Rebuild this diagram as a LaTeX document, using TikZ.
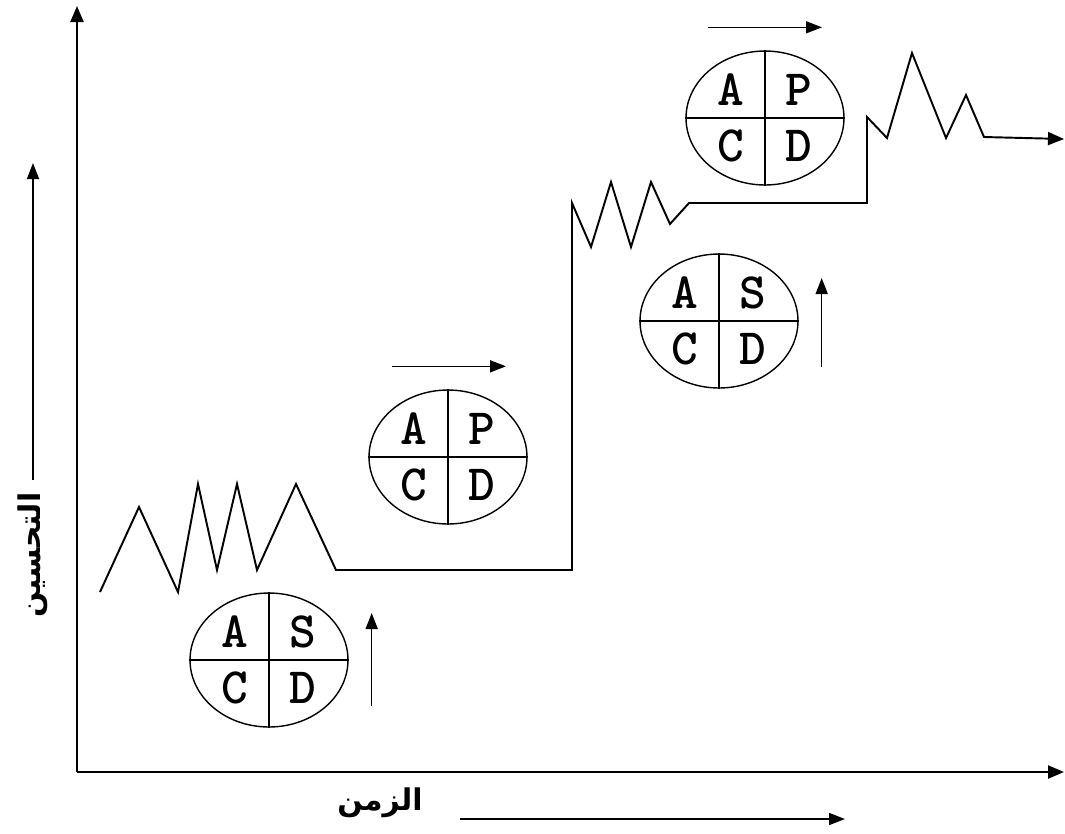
\documentclass[tikz,border=0pt]{standalone}
\usepackage{fontspec}
\newfontfamily\arabicfont[Script=Arabic]{DejaVu Sans}
\TeXXeTstate=1
\usetikzlibrary{shapes.geometric, arrows.meta, calc}
\tikzset{
    axisline/.style={line width=1.3pt, -{Triangle[length=3.2mm, width=2.6mm]}},
    stepline/.style={line width=1.1pt, line join=miter, -{Triangle[length=3.2mm, width=2.6mm]}},
    cyclebox/.style={draw, ellipse, line width=0.8pt, minimum width=3.16cm, minimum height=2.68cm, inner sep=0pt},
    divider/.style={line width=0.8pt},
    letter/.style={font=\ttfamily\bfseries\fontsize{29}{29}\selectfont, inner sep=0pt},
    dirarrow/.style={line width=0.9pt, -{Triangle[length=3.2mm, width=2.4mm]}},
    axislabel/.style={font=\arabicfont\bfseries\fontsize{17}{20}\selectfont, inner sep=0pt},
}
\begin{document}
\begin{tikzpicture}[x=0.02cm, y=-0.02cm]
    \useasboundingbox (0,0) rectangle (1065,833);

    % Axes
    \coordinate (origin) at (77,772);
    \coordinate (ytop) at (77,6);
    \coordinate (xend) at (1064,772);
    \draw[axisline] (origin) -- (ytop);
    \draw[axisline] (origin) -- (xend);

    % Axis labels
    \node[axislabel, rotate=90] (ylabel) at (33,555) {\beginR التحسين\endR};
    \coordinate (ybase) at (33,480);
    \coordinate (ytip) at (33,163);
    \draw[dirarrow] (ybase) -- (ytip);
    \node[axislabel] (xlabel) at (380,803) {\beginR الزمن\endR};
    \coordinate (xbase) at (460,819);
    \coordinate (xtip) at (845,819);
    \draw[dirarrow] (xbase) -- (xtip);

    % Improvement path
    \draw[stepline] (100,592) -- (139,507) -- (178,592) -- (198,484) -- (217,570)
        -- (237,484) -- (257,570) -- (296,484) -- (336,570) -- (572,570)
        -- (572,203) -- (591,247) -- (611,182) -- (631,247) -- (651,182)
        -- (670,224) -- (689,203) -- (867,203) -- (867,117) -- (887,138)
        -- (912,53) -- (946,138) -- (966,95) -- (984,137) -- (1064,139);

    % First SDCA cycle
    \node[cyclebox] (sdca1) at (269,660) {};
    \draw[divider] (sdca1.north) -- (sdca1.south);
    \draw[divider] (sdca1.west) -- (sdca1.east);
    \node[letter] (sdca1a) at ($(sdca1)+(-34,-28)$) {A};
    \node[letter] (sdca1s) at ($(sdca1)+(34,-28)$) {S};
    \node[letter] (sdca1c) at ($(sdca1)+(-34,28)$) {C};
    \node[letter] (sdca1d) at ($(sdca1)+(34,28)$) {D};
    \draw[dirarrow] ($(sdca1.east)+(23,46)$) -- ($(sdca1.east)+(23,-47)$);

    % First PDCA cycle
    \node[cyclebox] (pdca1) at (448,457) {};
    \draw[divider] (pdca1.north) -- (pdca1.south);
    \draw[divider] (pdca1.west) -- (pdca1.east);
    \node[letter] (pdca1a) at ($(pdca1)+(-34,-28)$) {A};
    \node[letter] (pdca1p) at ($(pdca1)+(34,-28)$) {P};
    \node[letter] (pdca1c) at ($(pdca1)+(-34,28)$) {C};
    \node[letter] (pdca1d) at ($(pdca1)+(34,28)$) {D};
    \draw[dirarrow] ($(pdca1.north)+(-56,-23)$) -- ($(pdca1.north)+(58,-23)$);

    % Second SDCA cycle
    \node[cyclebox] (sdca2) at (719,321) {};
    \draw[divider] (sdca2.north) -- (sdca2.south);
    \draw[divider] (sdca2.west) -- (sdca2.east);
    \node[letter] (sdca2a) at ($(sdca2)+(-34,-28)$) {A};
    \node[letter] (sdca2s) at ($(sdca2)+(34,-28)$) {S};
    \node[letter] (sdca2c) at ($(sdca2)+(-34,28)$) {C};
    \node[letter] (sdca2d) at ($(sdca2)+(34,28)$) {D};
    \draw[dirarrow] ($(sdca2.east)+(23,46)$) -- ($(sdca2.east)+(23,-43)$);

    % Second PDCA cycle
    \node[cyclebox] (pdca2) at (765,118) {};
    \draw[divider] (pdca2.north) -- (pdca2.south);
    \draw[divider] (pdca2.west) -- (pdca2.east);
    \node[letter] (pdca2a) at ($(pdca2)+(-34,-28)$) {A};
    \node[letter] (pdca2p) at ($(pdca2)+(34,-28)$) {P};
    \node[letter] (pdca2c) at ($(pdca2)+(-34,28)$) {C};
    \node[letter] (pdca2d) at ($(pdca2)+(34,28)$) {D};
    \draw[dirarrow] ($(pdca2.north)+(-57,-23)$) -- ($(pdca2.north)+(57,-23)$);
\end{tikzpicture}
\end{document}
